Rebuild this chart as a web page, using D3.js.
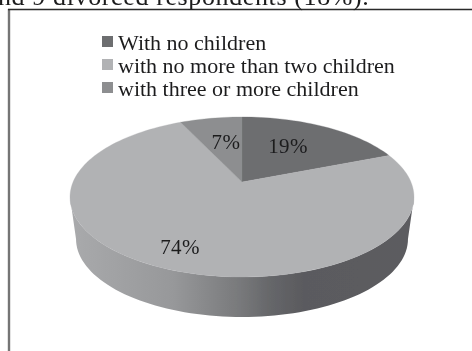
<!DOCTYPE html>
<html><head><meta charset="utf-8">
<script src="https://cdn.jsdelivr.net/npm/d3@7"></script>
<style>html,body{margin:0;padding:0;background:#fff;overflow:hidden}svg{display:block}text{font-family:"Liberation Serif",serif;fill:#1c1c1e}</style>
</head><body><svg id="c" width="472" height="351"></svg>
<script>
const categories = ["With no children","with no more than two children","with three or more children"];
const shares = [19,74,7];
const sliceColors = ["#6d6e70","#b1b2b4","#8d8e90"];
const sideStops = [[0,"#a9aaac"],[0.3,"#97989a"],[0.5,"#77787a"],[0.58,"#66676a"],[0.68,"#5a5a5e"],[1,"#5c5c60"]];
const heading = "nd 9 divorced respondents (18%).";

const W=472,H=351,cx=242,cy=197,rx=172,ry=80,d=0.1875,depth=40,shrink=0.965;
const svg=d3.select("#c");
const defs=svg.append("defs");
defs.append("filter").attr("id","soft").append("feGaussianBlur").attr("stdDeviation",0.4);
const g=defs.append("linearGradient").attr("id","side").attr("x1",0).attr("x2",1).attr("y1",0).attr("y2",0);
sideStops.forEach(s=>g.append("stop").attr("offset",s[0]).attr("stop-color",s[1]));
const root=svg.append("g").attr("filter","url(#soft)");

// perspective map from pie angle to the tilted disc
const project=a=>{const u=Math.sin(a),v=Math.cos(a),q=1+d*v;
  return [cx+rx*u*Math.sqrt(1-d*d)/q, cy-ry*(v+d)/q];};
const apex=[cx,cy-ry*d];
const pie=d3.pie().sort(null).value(v=>v)(shares);
const line=d3.line();

// side wall
const n=80,sx=d3.scaleLinear().domain([0,n]);
const ang=sx.copy().range([Math.PI/2,3*Math.PI/2]);
const topEdge=d3.range(n+1).map(i=>{const a=ang(i);return [cx+rx*Math.sin(a),cy-ry*Math.cos(a)];});
const botEdge=d3.range(n+1).map(i=>{const a=ang(i);return [cx+rx*shrink*Math.sin(a),cy+depth+2-(ry-2)*Math.cos(a)];}).reverse();
root.append("path").attr("d",line(topEdge.concat(botEdge))+"Z").attr("fill","url(#side)");

// top face slices
root.selectAll("path.s").data(pie).join("path").attr("class","s")
 .attr("fill",(p,i)=>sliceColors[i])
 .attr("stroke",(p,i)=>sliceColors[i]).attr("stroke-width",0.3)
 .attr("d",p=>{const m=Math.max(12,Math.ceil((p.endAngle-p.startAngle)*30));
   const pts=d3.range(m+1).map(i=>project(p.startAngle+(p.endAngle-p.startAngle)*i/m));
   return line([apex,...pts])+"Z";});

// value labels
const labelPos=[[288,153],[180,254],[226,149]];
root.selectAll("text.v").data(shares).join("text").attr("class","v")
 .attr("x",(v,i)=>labelPos[i][0]).attr("y",(v,i)=>labelPos[i][1])
 .attr("text-anchor","middle").attr("font-size",21).attr("letter-spacing",0.4).text(v=>v+"%");

// legend
const ly=d3.scalePoint().domain(categories).range([50,96]);
root.selectAll("rect.k").data(categories).join("rect").attr("class","k")
 .attr("x",102).attr("y",c=>ly(c)-14).attr("width",11).attr("height",11)
 .attr("fill",(c,i)=>sliceColors[i]);
root.selectAll("text.l").data(categories).join("text").attr("class","l")
 .attr("x",118).attr("y",c=>ly(c)).attr("font-size",22).text(c=>c);

// frame and page text
root.append("line").attr("x1",9).attr("x2",9).attr("y1",9).attr("y2",H).attr("stroke","#757575").attr("stroke-width",2.4);
root.append("line").attr("x1",8).attr("x2",W).attr("y1",9.6).attr("y2",9.6).attr("stroke","#2a2a2a").attr("stroke-width",1.5);
root.append("text").attr("x",-2).attr("y",5).attr("font-size",26).attr("letter-spacing",0.62).text(heading);
</script></body></html>
